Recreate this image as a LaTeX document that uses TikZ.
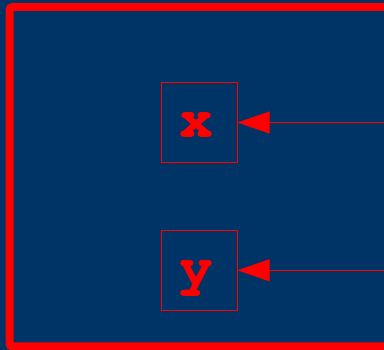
\documentclass[tikz,border=0pt]{standalone}
\usepackage{fontspec}
\newfontfamily\codefont{TeX Gyre Cursor}[BoldFeatures={FakeBold=1.5}]
\usetikzlibrary{arrows.meta}
\definecolor{bg}{RGB}{0,51,102}
\definecolor{rd}{RGB}{255,0,0}
\tikzset{
  varbox/.style={draw=rd, line width=1pt, minimum width=76pt, minimum height=80pt,
    inner sep=0pt, text height=28pt, text depth=0pt, text=rd,
    font=\codefont\bfseries\fontsize{55}{55}\selectfont},
  link/.style={draw=rd, line width=1pt, -{Triangle[length=32pt,width=22pt]}}
}
\begin{document}
\begin{tikzpicture}[x=1pt,y=1pt]
\useasboundingbox (0,0) rectangle (384,350);
\clip (0,0) rectangle (384,350);
\fill[bg] (0,0) rectangle (384,350);
\draw[rd, line width=8pt, rounded corners=3pt] (9.5,343) -- (9.5,3.5) -- (420,3.5) -- (420,343) -- cycle;
\node[varbox] (x) at (199,227.5) {x\kern6pt};
\node[varbox] (y) at (199,79.7) {y\kern6pt};
\coordinate (xs) at (390,227.5);
\coordinate (ys) at (390,79.7);
\draw[link] (xs) -- (x);
\draw[link] (ys) -- (y);
\end{tikzpicture}
\end{document}
